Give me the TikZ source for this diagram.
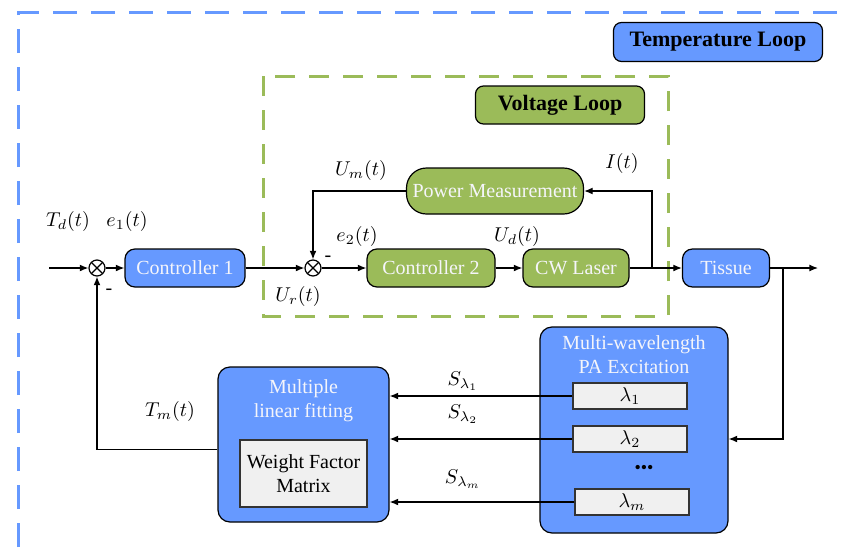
\documentclass[tikz,border=0pt]{standalone}
\usepackage{fontspec}
\setmainfont{Liberation Serif}
\usetikzlibrary{arrows.meta}
\newcommand{\MY}{268}
\definecolor{tlblue}{RGB}{102,153,255}
\definecolor{vlgreen}{RGB}{155,187,89}
\definecolor{cellgray}{RGB}{240,240,240}
\definecolor{boxtext}{RGB}{245,245,250}

\begin{document}
\begin{tikzpicture}[
    x=0.5pt, y=-0.5pt,
    >={Latex[length=1.5mm,width=1.2mm]},
    wire/.style={draw=black, line width=0.6pt},
    bblk/.style={rectangle, rounded corners=5pt, draw=black, fill=tlblue, text=boxtext, line width=0.6pt, minimum height=19pt, inner sep=0pt},
    gblk/.style={rectangle, rounded corners=5pt, draw=black, fill=vlgreen, text=boxtext, line width=0.6pt, minimum height=19pt, inner sep=0pt},
    cell/.style={rectangle, draw=black!80, fill=cellgray, line width=0.6pt, inner sep=0pt, align=center},
    sumj/.style={circle, draw=black, fill=white, line width=0.6pt, minimum size=8pt, inner sep=0pt,
      path picture={\draw[line width=0.6pt] (path picture bounding box.north west) -- (path picture bounding box.south east)
        (path picture bounding box.north east) -- (path picture bounding box.south west);}},
    title/.style={rectangle, rounded corners=4pt, draw=black, line width=0.6pt, font=\bfseries\fontsize{11}{13}\selectfont, inner sep=0pt},
    tloop/.style={draw=tlblue, line width=1.5pt, dash pattern=on 12pt off 7pt},
    vloop/.style={draw=vlgreen, line width=1.5pt, dash pattern=on 10pt off 7pt},
    tag/.style={font=\normalsize},
  ]
  \useasboundingbox (0,0) rectangle (841,547);

  %% the two loops
  \draw[tloop] (18,547) -- (18,12) -- (841,12);
  \draw[vloop] (263,76) rectangle (668,316);
  \node[title, fill=tlblue, minimum width=104.5pt, minimum height=19.5pt] (tltitle) at (718,42) {Temperature Loop};
  \node[title, fill=vlgreen, minimum width=84.5pt, minimum height=19pt] (vltitle) at (560,105) {Voltage Loop};

  %% forward path
  \node[sumj] (s1) at (97,\MY) {};
  \node[bblk, minimum width=60pt] (ctrl1) at (185,\MY) {Controller 1};
  \node[sumj] (s2) at (313,\MY) {};
  \node[gblk, minimum width=64pt] (ctrl2) at (431,\MY) {Controller 2};
  \node[gblk, minimum width=53pt] (laser) at (576,\MY) {CW Laser};
  \node[bblk, minimum width=43.5pt] (tissue) at (726,\MY) {Tissue};
  \node[gblk, minimum width=88.5pt, minimum height=23pt, rounded corners=10pt] (pm) at (495,191) {Power Measurement};

  \coordinate (in) at (49,\MY);
  \coordinate (out) at (818,\MY);
  \coordinate (tap) at (652,\MY);
  \coordinate (branch) at (783,\MY);

  \draw[wire, ->] (in) -- (s1);
  \draw[wire, ->] (s1) -- (ctrl1);
  \draw[wire, ->] (ctrl1) -- (s2);
  \draw[wire, ->] (s2) -- (ctrl2);
  \draw[wire, ->] (ctrl2) -- (laser);
  \draw[wire, ->] (laser) -- (tissue);
  \draw[wire, ->] (tissue) -- (out);
  \draw[wire, ->] (tap) |- (pm.east);
  \draw[wire, ->] (pm.west) -| (s2.north);

  %% measurement path
  \node[bblk, rounded corners=6pt, minimum width=94pt, minimum height=103pt] (pa) at (634,430) {};
  \node[text=boxtext, align=center] (patxt) at (634,355) {Multi-wavelength\\PA Excitation};
  \node[cell, minimum width=57pt, minimum height=13pt] (l1) at (630,396) {$\lambda_1$};
  \node[cell, minimum width=57pt, minimum height=13pt] (l2) at (630,439) {$\lambda_2$};
  \node[font=\small] (dots) at (644,469) {\textbullet\textbullet\textbullet};
  \node[cell, minimum width=57pt, minimum height=13pt] (lm) at (632,502) {$\lambda_m$};

  \node[bblk, rounded corners=6pt, minimum width=85.5pt, minimum height=77.5pt] (fit) at (303.5,444.5) {};
  \node[text=boxtext, align=center] (fittxt) at (303.5,401) {Multiple\\linear fitting};
  \node[cell, minimum width=63.5pt, minimum height=33.5pt] (wfm) at (303.5,473.5) {Weight Factor\\Matrix};

  \draw[wire, ->] (branch) |- (pa.east |- l2);
  \draw[wire, ->] (l1.west) -- (fit.east |- l1);
  \draw[wire, ->] (l2.west) -- (fit.east |- l2);
  \draw[wire, ->] (lm.west) -- (fit.east |- lm);
  \draw[wire, ->] ([yshift=-2.5pt]fit.west) -| (s1.south);

  %% signal labels
  \node[tag] (td) at (68,221) {$T_d(t)$};
  \node[tag] (e1) at (127,221) {$e_1(t)$};
  \node[tag] (um) at (361,170) {$U_m(t)$};
  \node[tag] (e2) at (357,236) {$e_2(t)$};
  \node[tag] (ud) at (517,236) {$U_d(t)$};
  \node[tag] (it) at (622,163) {$I(t)$};
  \node[tag] (ur) at (298,296) {$U_r(t)$};
  \node[tag] (tm) at (170,411) {$T_m(t)$};
  \node[tag] (m1) at (109,292) {-};
  \node[tag] (m2) at (328,259) {-};
  \node[tag] (sl1) at (463,381) {$S_{\lambda_1}$};
  \node[tag] (sl2) at (463,414) {$S_{\lambda_2}$};
  \node[tag] (slm) at (463,479) {$S_{\lambda_m}$};

\end{tikzpicture}
\end{document}
